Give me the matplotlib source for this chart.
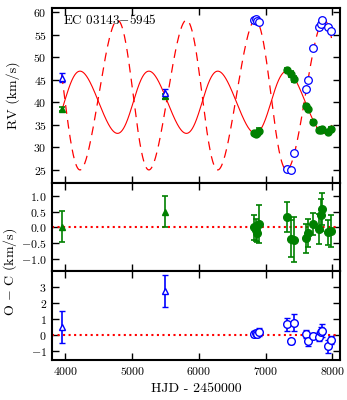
import numpy as np
import matplotlib
matplotlib.use("Agg")
import matplotlib.pyplot as plt

plt.rcParams['font.family'] = ['cmr10', 'DejaVu Serif']
plt.rcParams['mathtext.fontset'] = 'cm'
plt.rcParams['axes.unicode_minus'] = False
plt.rcParams['axes.formatter.use_mathtext'] = True

# orbital fit
period = 1032.0
t_peak = 4219.0      # time of max velocity of the primary
ecc = 0.07
gamma1 = 40.0
k1 = 6.9
gamma2 = 41.6
k2 = 16.6
model_start = 3946
model_end = 7990

# older epochs (triangles)
t_old = [3946, 5486]
rv1_old = [38.5, 41.3]
rv2_old = [45.4, 42.0]
oc1_old = [0.02, 0.5]
oc2_old = [0.48, 2.75]
err1_old = [0.5, 0.5]
err2_old = [1.0, 1.0]

# newer epochs (circles)
t_new = [6826, 6856, 6866, 6896, 7316, 7376, 7431, 7601, 7641, 7716, 7806, 7826, 7846, 7931, 7976]
rv1_new = [33.1, 33.0, 33.2, 33.6, 47.2, 46.3, 45.1, 39.2, 38.4, 35.7, 33.9, 33.8, 34.0, 33.5, 34.0]
rv2_new = [58.3, 58.4, 58.0, 57.7, 25.1, 24.9, 28.7, 42.9, 45.0, 52.1, 56.6, 57.4, 58.2, 56.7, 55.7]
oc1_new = [0.0, -0.1, -0.17, 0.1, 0.33, -0.36, -0.39, -0.35, -0.18, 0.11, -0.05, 0.39, 0.58, -0.16, -0.12]
err1_new = [0.39, 0.35, 0.3, 0.6, 0.48, 0.6, 0.71, 0.47, 0.44, 0.35, 0.47, 0.5, 0.5, 0.4, 0.5]
oc2_new = [0.04, 0.1, 0.06, 0.2, 0.66, -0.41, 0.77, 0.04, -0.37, -0.06, -0.1, 0.17, 0.25, -0.72, -0.31]
err2_new = [0.2, 0.2, 0.2, 0.25, 0.4, 0.13, 0.5, 0.25, 0.3, 0.15, 0.3, 0.3, 0.4, 0.4, 0.25]


def orbit(t, gamma, k, omega):
    # keplerian rv curve, periastron placed so primary peaks at t_peak
    e90 = 2 * np.arctan(np.sqrt((1 - ecc) / (1 + ecc)))
    tp = t_peak - (e90 - ecc * np.sin(e90)) / (2 * np.pi) * period
    m = 2 * np.pi * (t - tp) / period
    E = m.copy()
    for _ in range(30):
        E = m + ecc * np.sin(E)
    nu = 2 * np.arctan2(np.sqrt(1 + ecc) * np.sin(E / 2), np.sqrt(1 - ecc) * np.cos(E / 2))
    return gamma + k * (np.cos(nu + omega) + ecc * np.cos(omega))


fig = plt.figure(figsize=(3.47, 4.0), dpi=100)
gs = fig.add_gridspec(3, 1, height_ratios=[175, 88, 89], hspace=0,
                      left=0.149, right=0.98, top=0.98, bottom=0.10)
ax1 = fig.add_subplot(gs[0])
ax2 = fig.add_subplot(gs[1], sharex=ax1)
ax3 = fig.add_subplot(gs[2], sharex=ax1)

ekw = dict(capsize=2.5, elinewidth=1.2, capthick=1.2)
ax1.errorbar(t_old, rv1_old, yerr=err1_old, fmt='^', color='g', ms=5, **ekw)
ax1.errorbar(t_old, rv2_old, yerr=err2_old, fmt='^', color='b', mfc='white', ms=5, mew=1, **ekw)
ax1.errorbar(t_new, rv1_new, yerr=err1_new, fmt='o', color='g', ms=5, **ekw)
ax1.errorbar(t_new, rv2_new, yerr=err2_new, fmt='o', color='b', mfc='white', ms=5.5, mew=0.9, **ekw)

tt = np.linspace(model_start, model_end, 2000)
ax1.plot(tt, orbit(tt, gamma1, k1, 1.5 * np.pi), 'r-', lw=0.8)
ax1.plot(tt, orbit(tt, gamma2, k2, 0.5 * np.pi), 'r--', lw=0.9, dashes=(7, 5))

ax2.axhline(0, color='r', ls=':', lw=1.5)
ax2.errorbar(t_old, oc1_old, yerr=err1_old, fmt='^', color='g', ms=5, **ekw)
ax2.errorbar(t_new, oc1_new, yerr=err1_new, fmt='o', color='g', ms=5.5, **ekw)

ax3.axhline(0, color='r', ls=':', lw=1.5)
ax3.errorbar(t_old, oc2_old, yerr=err2_old, fmt='^', color='b', mfc='white', ms=5, mew=1, **ekw)
ax3.errorbar(t_new, oc2_new, yerr=err2_new, fmt='o', color='b', mfc='white', ms=5.5, mew=1, **ekw)

ax1.set_xlim(3795, 8115)
ax1.set_ylim(22.1, 60.9)
ax2.set_ylim(-1.39, 1.41)
ax3.set_ylim(-1.56, 3.97)
ax1.set_yticks([25, 30, 35, 40, 45, 50, 55, 60])
ax2.set_yticks([-1.0, -0.5, 0.0, 0.5, 1.0])
ax3.set_yticks([-1, 0, 1, 2, 3])
ax3.set_xticks([4000, 5000, 6000, 7000, 8000])

for ax in (ax1, ax2, ax3):
    ax.tick_params(direction='in', top=True, right=True, length=5, width=1,
                   labelsize=8.5)
    for s in ax.spines.values():
        s.set_linewidth(1.5)
ax1.tick_params(labelbottom=False)
ax2.tick_params(labelbottom=False)

ax1.text(0.04, 0.93, r'EC 03143$-$5945', transform=ax1.transAxes, fontsize=9.5,
         va='center', ha='left')
ax1.set_ylabel('RV (km/s)', fontsize=10)
fig.text(0.03, 0.32, r'O $-$ C (km/s)', rotation=90, fontsize=10, va='center', ha='center')
ax3.set_xlabel('HJD - 2450000', fontsize=10)
ax1.yaxis.set_label_coords(-0.11, 0.5)

fig.savefig('out.png', dpi=100)
